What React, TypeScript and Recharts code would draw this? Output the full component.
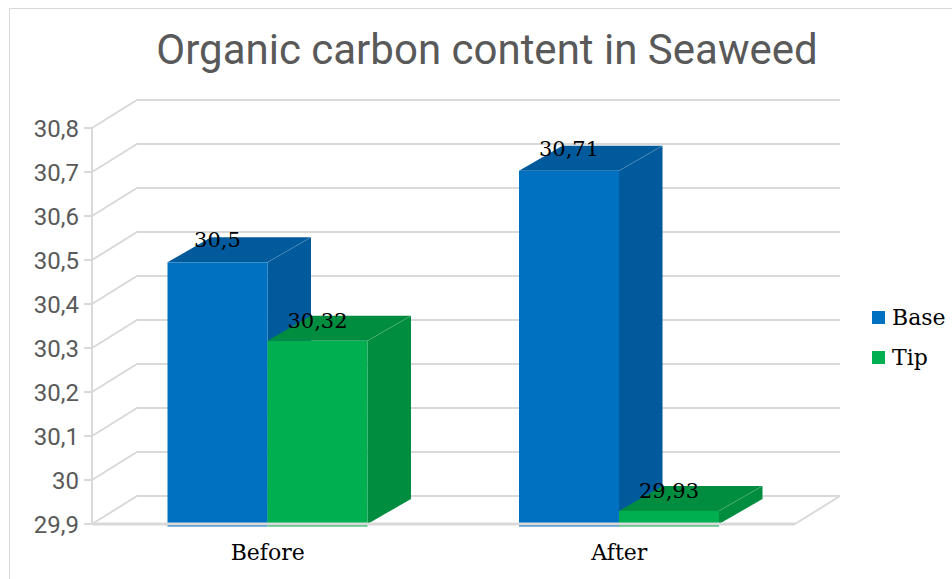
import { BarChart, Bar, XAxis, YAxis, CartesianGrid, LabelList } from 'recharts';

const categories = ['Before', 'After'];
const baseValues = [30.5, 30.71];
const tipValues = [30.32, 29.93];
const yTicks = [29.9, 30, 30.1, 30.2, 30.3, 30.4, 30.5, 30.6, 30.7, 30.8];

const data = categories.map((name, i) => ({ name, Base: baseValues[i], Tip: tipValues[i] }));

const SERIF = '"DejaVu Serif", serif';
const SANS = 'Roboto, sans-serif';
const GRID = '#d9d9d9';
const DX = 43.5; // depth of the fake 3d box
const DY = 25;

const commaLabel = (v: number) => String(v).replace('.', ',');

// back wall: diagonal from the axis, then the line along the wall
const wallLine = (props: any) => {
  const { x1, x2, y1, index } = props;
  const isFloor = Math.abs(y1 - 524) < 1;
  return (
    <g key={index} fill="none" stroke={GRID} strokeWidth={2}>
      <polyline points={`${x1},${y1} ${x1 + 45},${y1 - 28} ${x2 + 45},${y1 - 28}`} />
      {isFloor && <line x1={x2} y1={y1} x2={x2 + 45} y2={y1 - 28} />}
    </g>
  );
};

const box = (front: string, dark: string) => (props: any) => {
  const { x, y, width, height } = props;
  const r = x + width;
  const b = y + height;
  return (
    <g>
      <polygon points={`${r},${y} ${r + DX},${y - DY} ${r + DX},${b - DY} ${r},${b}`} fill={dark} />
      <polygon points={`${x},${y} ${x + DX},${y - DY} ${r + DX},${y - DY} ${r},${y}`} fill={dark} />
      <rect x={x} y={y} width={width} height={height + 2.5} fill={front} />
      <line x1={r} y1={y} x2={r + DX} y2={y - DY} stroke="#ffffff" strokeOpacity={0.25} strokeWidth={0.5} />
    </g>
  );
};

const legendItems = [
  { name: 'Base', color: '#0070c0' },
  { name: 'Tip', color: '#00b050' },
];

export default function App() {
  return (
    <div style={{ position: 'absolute', left: 0, top: 0, width: 952, height: 579, overflow: 'hidden', background: '#fff' }}>
      <div style={{ position: 'absolute', left: 9, top: 8, width: 960, height: 600, border: `1px solid ${GRID}` }} />
      <div
        style={{
          position: 'absolute',
          left: 0,
          width: 974,
          top: 23,
          textAlign: 'center',
          fontFamily: SANS,
          fontSize: 42,
          lineHeight: '54px',
          color: '#595959',
        }}
      >
        Organic carbon content in Seaweed
      </div>
      <div style={{ position: 'absolute', left: 0, top: 0 }}>
        <BarChart
          width={952}
          height={579}
          data={data}
          margin={{ top: 128, right: 157, bottom: 0, left: 0 }}
          barCategoryGap={75.5}
          barGap={0}
        >
          <CartesianGrid vertical={false} horizontal={wallLine} />
          <XAxis
            dataKey="name"
            height={55}
            axisLine={{ stroke: GRID, strokeWidth: 3 }}
            tickLine={false}
            tick={{ fontFamily: SERIF, fontSize: 22, fill: '#000' }}
            tickMargin={14}
          />
          <YAxis
            type="number"
            width={92}
            domain={[29.9, 30.8]}
            ticks={yTicks}
            interval={0}
            allowDataOverflow
            tickFormatter={commaLabel}
            axisLine={{ stroke: GRID, strokeWidth: 2 }}
            tickLine={{ stroke: GRID, strokeWidth: 2 }}
            tickSize={8}
            tickMargin={5}
            tick={{ fontFamily: SANS, fontSize: 24, fill: '#595959' }}
          />
          <YAxis yAxisId="bars" hide width={0} domain={[29.9, 30.808]} />
          <Bar yAxisId="bars" dataKey="Base" isAnimationActive={false} shape={box('#0070c0', '#005a9b')}>
            <LabelList dataKey="Base" position="top" offset={15} formatter={commaLabel} style={{ fontFamily: SERIF, fontSize: 21, fill: '#000' }} />
          </Bar>
          <Bar yAxisId="bars" dataKey="Tip" isAnimationActive={false} shape={box('#00b050', '#008d40')}>
            <LabelList dataKey="Tip" position="top" offset={13} formatter={commaLabel} style={{ fontFamily: SERIF, fontSize: 21, fill: '#000' }} />
          </Bar>
        </BarChart>
      </div>
      {legendItems.map((item, i) => (
        <div
          key={item.name}
          style={{
            position: 'absolute',
            left: 872,
            top: 300 + i * 40,
            height: 35,
            display: 'flex',
            alignItems: 'center',
            fontFamily: SERIF,
            fontSize: 22,
            color: '#000',
          }}
        >
          <span style={{ width: 13, height: 13, background: item.color, marginRight: 7 }} />
          {item.name}
        </div>
      ))}
    </div>
  );
}
